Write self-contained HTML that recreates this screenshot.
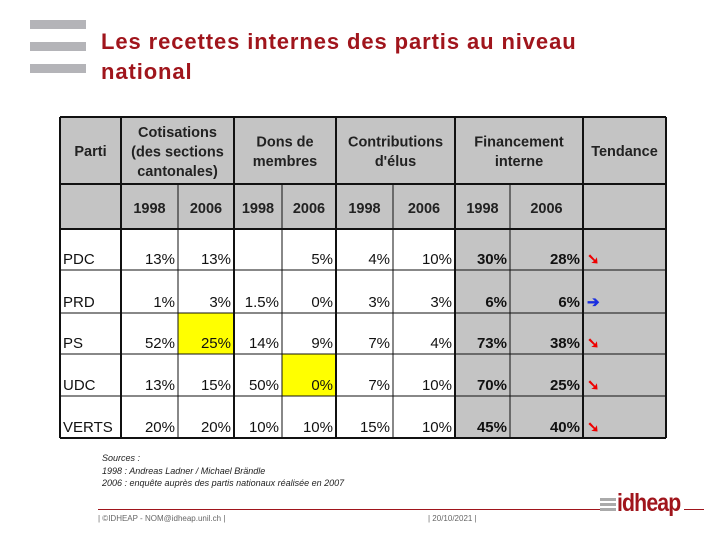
<!DOCTYPE html>
<html><head><meta charset="utf-8"><style>
body{margin:0;width:720px;height:540px;background:#fff;overflow:hidden;font-family:"Liberation Sans",Arial,sans-serif;position:relative}
.bar{position:absolute;left:30px;width:56px;height:9px;background:#b4b4b8}
#title{position:absolute;left:101px;top:27px;color:#a0151c;font-size:22px;font-weight:bold;line-height:30px;letter-spacing:0.9px}
#sources{position:absolute;left:102px;top:452px;font-size:9px;font-style:italic;line-height:12.5px;color:#222}
.foot{position:absolute;top:514px;font-size:8px;color:#666}
</style></head><body>
<div class="bar" style="top:20px"></div>
<div class="bar" style="top:42px"></div>
<div class="bar" style="top:64px"></div>
<div id="title">Les recettes internes des partis au niveau<br>national</div>
<svg id="tbl" width="720" height="540" style="position:absolute;left:0;top:0"></svg>
<div id="sources">Sources :<br>1998 : Andreas Ladner / Michael Brändle<br>2006 : enquête auprès des partis nationaux réalisée en 2007</div>
<div style="position:absolute;left:98px;top:509px;width:505px;height:1px;background:#a0151c"></div>
<div style="position:absolute;left:684px;top:509px;width:20px;height:1px;background:#a0151c"></div>
<div class="foot" style="left:98px">| ©IDHEAP - NOM@idheap.unil.ch |</div>
<div class="foot" style="left:428px">| 20/10/2021 |</div>
<div style="position:absolute;left:600px;top:492px;width:85px;height:26px">
<div style="position:absolute;left:0;top:6px;width:16px;height:3px;background:#aaa"></div>
<div style="position:absolute;left:0;top:11px;width:16px;height:3px;background:#aaa"></div>
<div style="position:absolute;left:0;top:16px;width:16px;height:3px;background:#aaa"></div>
<span style="position:absolute;left:17px;top:-3px;font-size:25px;font-weight:bold;color:#a0151c;letter-spacing:-1px;transform:scaleX(0.85);transform-origin:left">idheap</span>
</div>
<script>
const parties=["PDC","PRD","PS","UDC","VERTS"];
const cotis98=["13%","1%","52%","13%","20%"];
const cotis06=["13%","3%","25%","15%","20%"];
const dons98=["","1.5%","14%","50%","10%"];
const dons06=["5%","0%","9%","0%","10%"];
const contr98=["4%","3%","7%","7%","15%"];
const contr06=["10%","3%","4%","10%","10%"];
const fin98=["30%","6%","73%","70%","45%"];
const fin06=["28%","6%","38%","25%","40%"];
const trend=["down","flat","down","down","down"];
const svg=document.getElementById('tbl');const NS="http://www.w3.org/2000/svg";
const xs=[60,121,178,234,282,336,393,455,510,583,666];
const ys=[117,184,229,270,313,354,396,438];
function mk(t,a,txt){const e=document.createElementNS(NS,t);for(const k in a)e.setAttribute(k,a[k]);if(txt!==undefined)e.textContent=txt;svg.appendChild(e);return e;}
const h=mk('rect',{x:60,y:117,width:606,height:112,fill:'#c4c4c4'});

const g=mk('rect',{x:455,y:229,width:211,height:209,fill:'#c4c4c4'});

const y1=mk('rect',{x:178,y:313,width:56,height:41,fill:'#ffff00'});

const y2=mk('rect',{x:282,y:354,width:54,height:42,fill:'#ffff00'});

const groups=[["Parti",60,121],["Cotisations|(des sections|cantonales)",121,234],["Dons de|membres",234,336],["Contributions|d'élus",336,455],["Financement|interne",455,583],["Tendance",583,666]];
groups.forEach(gr=>{const lines=gr[0].split('|');const cx=(gr[1]+gr[2])/2;const y0=151-(lines.length-1)*9.5+5;
lines.forEach((l,i)=>{const t=mk('text',{x:cx,y:y0+i*19.5,'text-anchor':'middle','font-size':14.5,'font-weight':'bold',fill:'#222'},l);
});});
for(let c=1;c<9;c++){const t=mk('text',{x:(xs[c]+xs[c+1])/2,y:213,'text-anchor':'middle','font-size':14.5,'font-weight':'bold',fill:'#222'},c%2?"1998":"2006");
}
const cols=[cotis98,cotis06,dons98,dons06,contr98,contr06,fin98,fin06];
parties.forEach((p,r)=>{const by=ys[r+3]-6;
const t=mk('text',{x:63,y:by,'font-size':15,fill:'#111'},p);
cols.forEach((col,c)=>{const v=mk('text',{x:xs[c+2]-3,y:by,'text-anchor':'end','font-size':15,fill:'#111','font-weight':c>=6?'bold':'normal'},col[r]);
});
const ar=mk('text',{x:587,y:by,'font-size':15,'font-weight':'bold',fill:trend[r]==='down'?'#e00':'#1a2ee0'},trend[r]==='down'?'➘':'➔');
});
const thick=[60,121,234,336,455,583,666];
xs.forEach((x,i)=>{const th=thick.includes(x);const top=th?117:184;
const l=mk('line',{x1:x,x2:x,y1:top,y2:438,stroke:'#111','stroke-width':th?2:1});});
ys.forEach((y,i)=>{const l=mk('line',{x1:60,x2:666,y1:y,y2:y,stroke:'#111','stroke-width':(i<3||i==7)?2:1});
});
</script>
</body></html>
